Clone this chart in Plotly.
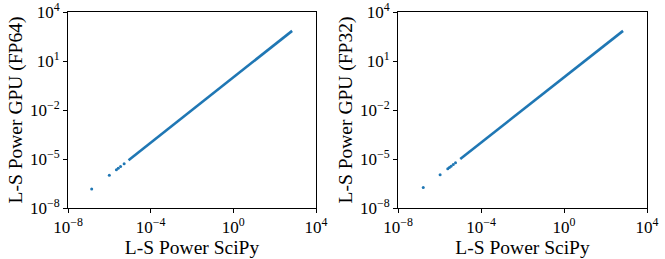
import plotly.graph_objects as go
from plotly.subplots import make_subplots

# ---- data ----
# isolated low-power points (SciPy power, GPU power)
fp64_sparse_scipy = [1.4e-7, 1.0e-6, 2.2e-6, 2.7e-6, 3.5e-6, 5.2e-6]
fp64_sparse_gpu   = [1.45e-7, 1.0e-6, 2.2e-6, 2.7e-6, 3.5e-6, 5.2e-6]
fp32_sparse_scipy = [1.65e-7, 1.07e-6, 2.5e-6, 3.0e-6, 3.6e-6, 4.6e-6, 5.9e-6]
fp32_sparse_gpu   = [1.8e-7, 1.1e-6, 2.5e-6, 3.0e-6, 3.6e-6, 4.6e-6, 5.9e-6]
# dense run of points along the diagonal
fp64_dense_scipy = [8.5e-6, 1.5e-5, 4e-5, 1e-4, 3e-4, 1e-3, 3e-3, 1e-2, 3e-2, 0.1, 0.3, 1, 3, 10, 30, 100, 300, 700]
fp64_dense_gpu   = [8.5e-6, 1.5e-5, 4e-5, 1e-4, 3e-4, 1e-3, 3e-3, 1e-2, 3e-2, 0.1, 0.3, 1, 3, 10, 30, 100, 300, 700]
fp32_dense_scipy = [1.0e-5, 1.5e-5, 4e-5, 1e-4, 3e-4, 1e-3, 3e-3, 1e-2, 3e-2, 0.1, 0.3, 1, 3, 10, 30, 100, 300, 700]
fp32_dense_gpu   = [1.0e-5, 1.5e-5, 4e-5, 1e-4, 3e-4, 1e-3, 3e-3, 1e-2, 3e-2, 0.1, 0.3, 1, 3, 10, 30, 100, 300, 700]

x_tickvals = [1e-8, 1e-4, 1e0, 1e4]
x_ticktext = ["10<sup>−8</sup>", "10<sup>−4</sup>", "10<sup>0</sup>", "10<sup>4</sup>"]
y_tickvals = [1e-8, 1e-5, 1e-2, 1e1, 1e4]
y_ticktext = ["10<sup>−8</sup>", "10<sup>−5</sup>", "10<sup>−2</sup>", "10<sup>1</sup>", "10<sup>4</sup>"]
x_title = "L-S Power SciPy"
y_titles = ["L-S Power GPU (FP64)", "L-S Power GPU (FP32)"]

BLUE = "#1f77b4"
FONT = "Liberation Serif"
TICK_SIZE = 17
TITLE_SIZE = 19.5

fig = make_subplots(rows=1, cols=2)
W, H = 665, 259
ml, mr, mt, mb = 68, 18, 12, 51
pw = W - ml - mr
left_dom = [0, (316 - 68) / pw]
right_dom = [(398 - 68) / pw, 1]

series = [
    (fp64_sparse_scipy, fp64_sparse_gpu, fp64_dense_scipy, fp64_dense_gpu),
    (fp32_sparse_scipy, fp32_sparse_gpu, fp32_dense_scipy, fp32_dense_gpu),
]
for i, (sx, sy, dx, dy) in enumerate(series, start=1):
    fig.add_trace(go.Scatter(x=dx, y=dy, mode="lines",
                             line=dict(color=BLUE, width=2.6),
                             showlegend=False, hoverinfo="skip"), row=1, col=i)
    fig.add_trace(go.Scatter(x=sx, y=sy, mode="markers",
                             marker=dict(color=BLUE, size=3),
                             showlegend=False), row=1, col=i)

axis_common = dict(type="log", showgrid=False, zeroline=False, automargin=False,
                   ticklabeloverflow="allow",
                   showline=True, mirror=True, linecolor="black", linewidth=1,
                   ticks="outside", ticklen=4, tickwidth=1, tickcolor="black",
                   tickfont=dict(family=FONT, size=TICK_SIZE, color="black"))

for i, dom in enumerate([left_dom, right_dom], start=1):
    fig.update_xaxes(range=[-8, 4], tickvals=x_tickvals, ticktext=x_ticktext,
                     domain=dom,
                     title=dict(text=x_title, font=dict(family=FONT, size=TITLE_SIZE, color="black"),
                                standoff=1),
                     **axis_common, row=1, col=i)
    fig.update_yaxes(range=[-8, 4], tickvals=y_tickvals, ticktext=y_ticktext,
                     title=dict(text=y_titles[i - 1], font=dict(family=FONT, size=TITLE_SIZE, color="black"),
                                standoff=2),
                     **axis_common, row=1, col=i)

fig.update_layout(width=W, height=H, margin=dict(l=ml, r=mr, t=mt, b=mb, autoexpand=False),
                  plot_bgcolor="white", paper_bgcolor="white",
                  font=dict(family=FONT, color="black"))

fig.write_html("out.html", config={"displayModeBar": False},
               post_script="document.body.style.margin='0';document.body.style.overflow='hidden';")
